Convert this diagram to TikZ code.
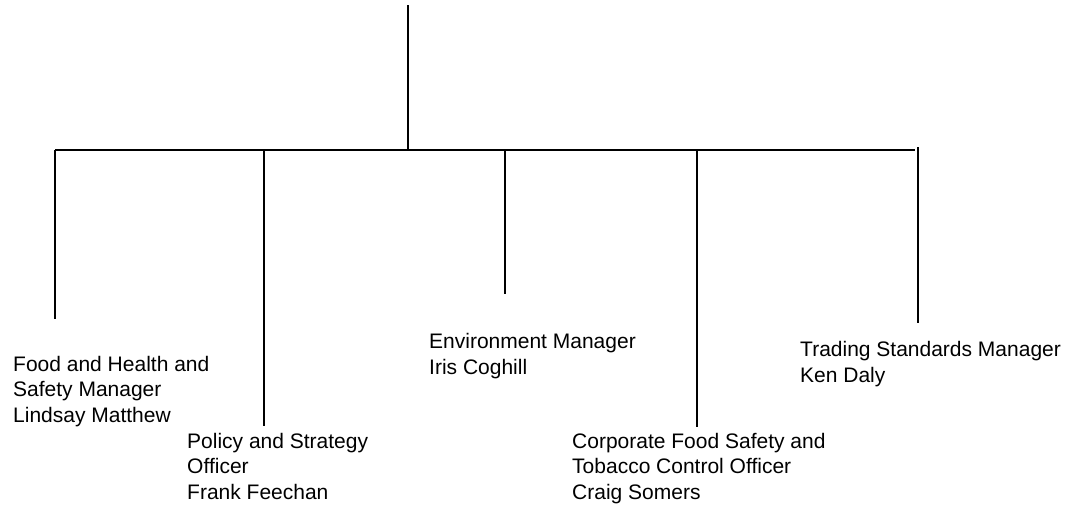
\documentclass[tikz,border=0pt]{standalone}
\usepackage{fontspec}
\setmainfont{Liberation Sans}
\begin{document}
\begin{tikzpicture}[x=1pt,y=-1pt,
  conn/.style={line width=1.5pt,black},
  lbl/.style={anchor=base west,inner sep=0pt,align=left,font=\fontsize{21}{25.5}\selectfont}]
\useasboundingbox (0,0) rectangle (1079,506);
% coordinates
\coordinate (top) at (408,5);
\coordinate (join) at (408,150);
\coordinate (hl) at (55,150);
\coordinate (hr) at (915,150);
\coordinate (b1t) at (55,150);  \coordinate (b1b) at (55,319);
\coordinate (b2t) at (264,150); \coordinate (b2b) at (264,426);
\coordinate (b3t) at (505,150); \coordinate (b3b) at (505,294);
\coordinate (b4t) at (697,150); \coordinate (b4b) at (697,427);
\coordinate (b5t) at (918,147); \coordinate (b5b) at (918,323);
% connectors
\draw[conn] (top) -- (join);
\draw[conn] (hl) -- (hr);
\draw[conn] (b1t) -- (b1b);
\draw[conn] (b2t) -- (b2b);
\draw[conn] (b3t) -- (b3b);
\draw[conn] (b4t) -- (b4b);
\draw[conn] (b5t) -- (b5b);
% labels (anchor is the baseline of the last line)
\node[lbl] (food) at (13,422) {Food and Health and\\Safety Manager\\Lindsay Matthew};
\node[lbl] (policy) at (187,499) {Policy and Strategy\\Officer\\Frank Feechan};
\node[lbl] (env) at (429,374) {Environment Manager\\Iris Coghill};
\node[lbl] (corp) at (572,499) {Corporate Food Safety and\\Tobacco Control Officer\\Craig Somers};
\node[lbl] (trade) at (800,382) {Trading Standards Manager\\Ken Daly};
\end{tikzpicture}
\end{document}
